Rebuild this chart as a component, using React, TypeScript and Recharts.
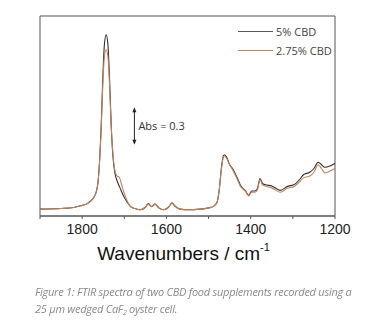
import { Line, LineChart, ReferenceArea, ReferenceLine, XAxis, YAxis } from "recharts";

const wavenumbers = [
  1900, 1850, 1820, 1800, 1790, 1780, 1772, 1766, 1762, 1758, 1755, 1751, 1747, 1743, 1739, 1735, 1731,
  1727, 1722, 1717, 1712, 1707, 1701, 1693, 1685, 1675, 1662, 1650, 1643, 1635, 1627, 1618, 1607, 1595,
  1587, 1580, 1567, 1550, 1520, 1500, 1489, 1480, 1475, 1470, 1465, 1462, 1457, 1450, 1443, 1437, 1430,
  1425, 1418, 1412, 1405, 1398, 1390, 1384, 1378, 1372, 1365, 1350, 1330, 1314, 1295, 1282, 1275, 1260,
  1250, 1240, 1232, 1224, 1212, 1200,
];

const cbd5 = [
  0.055, 0.06, 0.068, 0.085, 0.095, 0.12, 0.15, 0.2, 0.28, 0.48, 0.7, 1.1, 1.38, 1.45, 1.38, 1.1, 0.72,
  0.48, 0.34, 0.28, 0.24, 0.2, 0.155, 0.11, 0.075, 0.06, 0.05, 0.07, 0.1, 0.075, 0.095, 0.065, 0.05, 0.07,
  0.105, 0.08, 0.055, 0.05, 0.055, 0.065, 0.075, 0.11, 0.2, 0.37, 0.48, 0.49, 0.47, 0.41, 0.38, 0.34, 0.29,
  0.25, 0.22, 0.2, 0.165, 0.2, 0.2, 0.22, 0.3, 0.26, 0.25, 0.24, 0.205, 0.235, 0.255, 0.3, 0.33, 0.35,
  0.38, 0.43, 0.41, 0.39, 0.4, 0.42,
];

const cbd275 = [
  0.055, 0.06, 0.068, 0.085, 0.095, 0.12, 0.15, 0.2, 0.28, 0.47, 0.68, 1.05, 1.28, 1.33, 1.28, 1.05, 0.72,
  0.5, 0.36, 0.32, 0.31, 0.26, 0.19, 0.12, 0.075, 0.06, 0.05, 0.07, 0.095, 0.075, 0.095, 0.065, 0.05, 0.07,
  0.105, 0.08, 0.055, 0.05, 0.055, 0.065, 0.075, 0.11, 0.2, 0.36, 0.47, 0.48, 0.46, 0.41, 0.37, 0.33, 0.28,
  0.24, 0.215, 0.195, 0.16, 0.19, 0.19, 0.21, 0.29, 0.25, 0.24, 0.225, 0.19, 0.22, 0.24, 0.28, 0.305, 0.32,
  0.35, 0.41, 0.38, 0.345, 0.36, 0.38,
];

const seriesNames = ["5% CBD", "2.75% CBD"];
const xTicks = [1900, 1800, 1700, 1600, 1500, 1400, 1300, 1200];
const labelledTicks = [1800, 1600, 1400, 1200];

// scale bar: "Abs = 0.3"
const scaleBarX = 1676;
const scaleBarFrom = 0.57;
const scaleBarTo = 0.87;

const data = wavenumbers.map((w, i) => ({ w, a: cbd5[i], b: cbd275[i] }));

const DARK = "#2e2e2e";
const ORANGE = "#c4825c";

function LegendBox() {
  const colors = ["#555", ORANGE];
  return (
    <div
      style={{
        position: "absolute",
        left: 238,
        top: 22,
        fontFamily: "'Open Sans', sans-serif",
        fontSize: 11,
        color: "#444",
      }}
    >
      {seriesNames.map((name, i) => (
        <div key={name} style={{ display: "flex", alignItems: "center", height: 19 }}>
          <div style={{ width: 35, height: 0, borderTop: `1.2px solid ${colors[i]}`, marginRight: 3 }} />
          <span>{name}</span>
        </div>
      ))}
    </div>
  );
}

function AxisTitle(props: any) {
  const vb = props.viewBox || {};
  const cx = vb.x + vb.width / 2;
  return (
    <text x={cx - 4} y={vb.y + 44} textAnchor="middle" fontFamily="'Liberation Sans', Arial, sans-serif" fontSize={19} fill="#111">
      Wavenumbers / cm
      <tspan fontSize={11} dy={-9}>-1</tspan>
    </text>
  );
}

function ScaleArrow(props: any) {
  const vb = props.viewBox || {};
  const x = vb.x;
  const y1 = vb.y;
  const y2 = vb.y + vb.height;
  return (
    <g>
      <line x1={x} y1={y1 + 2} x2={x} y2={y2 - 2} stroke="#222" strokeWidth={1} />
      <path d={`M${x - 2},${y1 + 5} L${x},${y1} L${x + 2},${y1 + 5} Z`} fill="#222" />
      <path d={`M${x - 2},${y2 - 5} L${x},${y2} L${x + 2},${y2 - 5} Z`} fill="#222" />
      <text x={x + 4} y={(y1 + y2) / 2 + 4} fontFamily="'Open Sans', sans-serif" fontSize={11} fill="#333">
        Abs = 0.3
      </text>
    </g>
  );
}

export default function App() {
  return (
    <div style={{ position: "fixed", left: 0, top: 0, width: 391, height: 327, background: "#fff" }}>
      <LineChart width={391} height={265} data={data} margin={{ top: 16, right: 56, left: 40, bottom: 19 }}>
        <XAxis
          dataKey="w"
          type="number"
          domain={[1200, 1900]}
          reversed
          ticks={xTicks}
          tickFormatter={(v: number) => (labelledTicks.includes(v) ? String(v) : "")}
          height={30}
          tickSize={3}
          stroke="#555"
          tick={{ fill: "#222", fontSize: 14, fontFamily: "'Liberation Sans', Arial, sans-serif" }}
          tickMargin={5}
          label={<AxisTitle />}
        />
        <YAxis hide domain={[0, 1.6]} type="number" />
        <ReferenceArea
          x1={1900}
          x2={1200}
          y1={0}
          y2={1.6}
          fill="none"
          stroke="#555"
          strokeWidth={1}
          ifOverflow="visible"
        />
        <ReferenceLine
          segment={[
            { x: scaleBarX, y: scaleBarFrom },
            { x: scaleBarX, y: scaleBarTo },
          ]}
          stroke="none"
          label={(p: any) => <ScaleArrow viewBox={p.viewBox} />}
        />
        <Line
          dataKey="a"
          name={seriesNames[0]}
          type="monotone"
          stroke={DARK}
          strokeWidth={1.1}
          dot={false}
          isAnimationActive={false}
        />
        <Line
          dataKey="b"
          name={seriesNames[1]}
          type="monotone"
          stroke={ORANGE}
          strokeWidth={1.1}
          dot={false}
          isAnimationActive={false}
        />
      </LineChart>
      <LegendBox />
      <div
        style={{
          position: "absolute",
          left: 35,
          top: 283,
          width: 370,
          fontFamily: "'Open Sans', sans-serif",
          fontStyle: "italic",
          fontSize: 11,
          lineHeight: "17px",
          color: "#8a8a8a",
          letterSpacing: -0.25,
          whiteSpace: "nowrap",
        }}
      >
        <div>Figure 1: FTIR spectra of two CBD food supplements recorded using a</div>
        <div>
          25 μm wedged CaF<sub style={{ fontSize: 7, verticalAlign: "-2px", lineHeight: 0 }}>2</sub> oyster cell.
        </div>
      </div>
    </div>
  );
}
